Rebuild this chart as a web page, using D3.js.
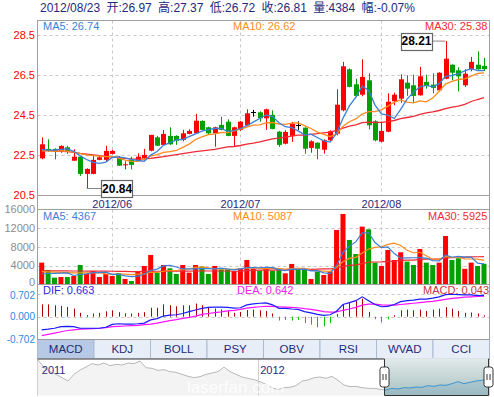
<!DOCTYPE html>
<html><head><meta charset="utf-8">
<script src="https://cdn.jsdelivr.net/npm/d3@7/dist/d3.min.js"></script>
<style>
html,body{margin:0;padding:0;background:#fff;}
svg{display:block;}
text{font-family:"Liberation Sans",Arial,"Noto Sans CJK SC",sans-serif;}
</style></head>
<body><svg id="chart" width="494" height="397"></svg>
<script>
// ---------------- DATA ----------------
const dates = ["2012-05-17","2012-05-18","2012-05-21","2012-05-22","2012-05-23","2012-05-24","2012-05-25","2012-05-28","2012-05-29","2012-05-30","2012-05-31",
"2012-06-01","2012-06-04","2012-06-05","2012-06-06","2012-06-07","2012-06-08","2012-06-11","2012-06-12","2012-06-13","2012-06-14","2012-06-15","2012-06-18","2012-06-19","2012-06-20","2012-06-21","2012-06-25","2012-06-26","2012-06-27","2012-06-28","2012-06-29",
"2012-07-02","2012-07-03","2012-07-04","2012-07-05","2012-07-06","2012-07-09","2012-07-10","2012-07-11","2012-07-12","2012-07-13","2012-07-16","2012-07-17","2012-07-18","2012-07-19","2012-07-20","2012-07-23","2012-07-24","2012-07-25","2012-07-26","2012-07-27","2012-07-30","2012-07-31",
"2012-08-01","2012-08-02","2012-08-03","2012-08-06","2012-08-07","2012-08-08","2012-08-09","2012-08-10","2012-08-13","2012-08-14","2012-08-15","2012-08-16","2012-08-17","2012-08-20","2012-08-21","2012-08-22","2012-08-23"];

const open = [22.35,22.82,22.82,22.73,22.9,22.23,22.43,21.57,21.57,22.27,
22.27,22.57,22.4,22.0,22.27,22.27,22.35,22.73,23.4,23.02,
23.47,23.47,23.27,23.57,23.6,24.22,23.9,23.6,24.02,24.18,
23.47,23.77,24.0,24.65,24.65,24.35,24.52,23.68,23.08,23.47,
24.0,23.88,22.87,23.13,22.78,23.25,23.58,24.75,26.8,26.05,
25.53,26.25,24.2,23.18,23.68,25.2,25.33,26.13,26.0,25.5,
26.17,26.03,25.75,26.33,27.03,26.75,26.0,26.8,27.03,26.97];
const high = [23.4,23.3,22.85,23.0,22.98,22.8,22.45,21.85,22.47,22.47,
22.98,22.78,22.47,22.2,22.43,22.6,22.82,23.52,23.47,23.77,
23.9,23.5,23.77,23.8,24.57,24.25,23.93,23.93,24.43,24.3,
23.93,24.22,24.8,24.77,24.7,24.83,24.75,23.72,23.75,24.17,
24.2,23.9,23.25,23.15,23.3,23.75,25.8,27.17,26.85,26.33,
27.3,26.6,24.25,24.18,25.6,25.63,26.55,26.5,26.53,26.92,
26.53,26.6,26.65,28.21,27.05,26.9,26.8,27.42,27.7,27.37];
const low = [22.3,22.68,22.3,22.63,22.57,22.23,21.47,20.84,21.55,22.25,
22.2,22.55,21.97,21.8,21.8,22.23,22.3,22.7,22.97,23.0,
23.02,23.02,23.2,23.55,23.58,23.75,23.55,22.93,23.75,23.45,
22.93,23.72,23.95,24.43,24.18,23.77,23.8,22.92,23.05,23.17,
23.77,22.58,22.63,22.3,22.58,23.2,23.5,24.7,25.9,25.4,
25.45,23.8,23.2,23.15,23.65,25.0,25.13,25.47,25.13,25.48,
25.83,25.6,25.7,26.3,26.25,25.7,25.92,26.7,26.78,26.72];
const close = [23.05,22.73,22.68,22.97,22.68,22.43,21.57,21.82,22.27,22.4,
22.72,22.72,21.98,22.05,22.02,22.43,22.52,23.52,22.98,23.57,
23.05,23.23,23.6,23.72,24.23,23.77,23.6,23.9,23.77,23.47,
23.9,24.18,24.6,24.65,24.35,24.8,23.82,23.02,23.67,24.08,
24.0,22.83,23.2,22.83,23.25,23.7,25.03,26.95,25.92,25.47,
26.42,24.0,23.25,23.72,25.18,25.53,26.3,25.83,25.47,26.45,
25.97,25.87,26.63,27.33,26.63,26.45,26.58,27.17,26.8,26.81];

const ma5 = [22.78,22.76,22.76,22.8,22.82,22.70,22.47,22.29,22.15,22.10,
22.16,22.39,22.42,22.37,22.30,22.24,22.20,22.51,22.69,23.00,
23.13,23.27,23.29,23.43,23.57,23.71,23.78,23.84,23.85,23.70,
23.73,23.84,23.98,24.16,24.34,24.52,24.44,24.13,23.93,23.88,
23.72,23.52,23.56,23.39,23.22,23.16,23.60,24.35,24.97,25.41,
25.96,25.75,25.01,24.57,24.51,24.34,24.80,25.31,25.66,25.92,
26.00,25.92,26.08,26.45,26.49,26.58,26.72,26.83,26.73,26.74];
const ma10 = [22.72,22.72,22.71,22.72,22.71,22.66,22.58,22.52,22.48,22.46,
22.43,22.43,22.36,22.26,22.20,22.20,22.29,22.46,22.53,22.65,
22.68,22.74,22.90,23.06,23.29,23.42,23.53,23.57,23.64,23.63,
23.72,23.81,23.91,24.01,24.02,24.12,24.14,24.06,24.05,24.11,
24.12,23.98,23.84,23.66,23.55,23.44,23.56,23.95,24.18,24.32,
24.56,24.68,24.68,24.77,24.96,25.15,25.27,25.16,25.12,25.22,
25.17,25.36,25.70,26.06,26.20,26.29,26.32,26.46,26.59,26.62];
const ma30 = [22.75,22.74,22.72,22.70,22.68,22.65,22.60,22.56,22.52,22.48,
22.45,22.42,22.39,22.35,22.32,22.31,22.32,22.35,22.39,22.43,
22.48,22.53,22.58,22.63,22.68,22.72,22.76,22.80,22.86,22.92,
22.94,22.99,23.06,23.11,23.17,23.25,23.32,23.36,23.41,23.46,
23.51,23.51,23.55,23.58,23.62,23.66,23.74,23.86,23.96,24.02,
24.13,24.16,24.15,24.15,24.18,24.24,24.33,24.39,24.45,24.55,
24.62,24.67,24.74,24.83,24.91,24.96,25.05,25.19,25.29,25.38];

const volume = [4620,3060,1420,1560,1560,1780,4120,2200,2840,1560,
2200,1780,2350,1140,710,2840,3910,6260,2490,4120,
3410,2200,4120,2490,4120,3770,2200,3910,3200,3200,
2840,3340,5190,3340,2920,3410,2920,3060,2350,4340,
3200,3200,1140,2700,1990,2700,11590,15000,9460,6470,
12300,11730,4620,3910,7320,5190,6830,4840,4120,7540,
4620,4120,4620,10310,5190,5550,3300,4620,3910,4384];
const volMa5 = [2200,2300,2350,2400,2440,1880,2090,2240,2500,2500,
2580,2120,2150,1810,1640,1760,2190,2970,3240,3920,
4040,3700,3270,3270,3270,3340,3340,3300,3440,3260,
3070,3300,3550,3580,3530,3640,3560,3130,2930,3220,
3170,3230,2850,2920,2450,2350,4020,6800,8150,9040,
10960,10990,8920,7810,7980,6550,5570,5620,5660,5700,
5590,5050,5000,6240,5770,5960,5790,5790,4510,4367];
const volMa10 = [2700,2650,2600,2550,2500,2450,2450,2450,2450,2470,
2230,2100,2200,2150,2070,2170,2150,2560,2520,2780,
2900,2940,3120,3260,3600,3690,3520,3280,3350,3260,
3210,3320,3430,3510,3390,3360,3430,3340,3260,3370,
3410,3390,2990,2920,2830,2760,3630,4820,5530,5750,
6660,7510,7860,7980,8510,8760,8280,7270,6730,6840,
6070,5310,5310,5950,5740,5770,5420,5400,5380,5087];
const volMa30 = [2900,2880,2860,2850,2850,2840,2840,2830,2820,2800,
2800,2780,2760,2740,2720,2720,2740,2760,2780,2800,
2800,2820,2820,2830,2840,2850,2840,2840,2840,2840,
2780,2790,2910,2970,3020,3070,3030,3060,3050,3140,
3170,3220,3180,3230,3270,3270,3520,3820,4050,4130,
4420,4740,4760,4800,4910,4960,5110,5140,5170,5320,
5380,5400,5390,5620,5690,5760,5780,5830,5880,5925];

const dif = [-0.41,-0.39,-0.36,-0.31,-0.30,-0.31,-0.36,-0.36,-0.36,-0.36,
-0.33,-0.24,-0.22,-0.23,-0.23,-0.22,-0.20,-0.10,-0.06,0.02,
0.05,0.06,0.10,0.16,0.21,0.26,0.29,0.30,0.30,0.29,
0.27,0.28,0.37,0.40,0.42,0.43,0.37,0.26,0.26,0.24,
0.23,0.16,0.12,0.07,0.04,0.06,0.17,0.38,0.44,0.50,
0.62,0.50,0.38,0.31,0.32,0.38,0.47,0.50,0.52,0.55,
0.55,0.58,0.62,0.69,0.70,0.69,0.68,0.68,0.66,0.663];
const dea = [-0.59,-0.55,-0.51,-0.47,-0.43,-0.41,-0.39,-0.38,-0.37,-0.36,
-0.34,-0.31,-0.30,-0.29,-0.28,-0.27,-0.25,-0.23,-0.20,-0.16,
-0.12,-0.09,-0.05,-0.02,0.02,0.07,0.10,0.13,0.15,0.18,
0.20,0.23,0.27,0.29,0.31,0.32,0.32,0.31,0.30,0.29,
0.28,0.25,0.23,0.20,0.16,0.14,0.15,0.20,0.24,0.29,
0.36,0.39,0.39,0.37,0.36,0.36,0.38,0.40,0.42,0.44,
0.46,0.48,0.51,0.54,0.57,0.59,0.61,0.62,0.63,0.642];
const macd = [0.386,0.386,0.356,0.335,0.305,0.254,0.122,0.05,0.10,0.12,
0.17,0.20,0.14,0.11,0.10,0.12,0.14,0.28,0.28,0.386,
0.356,0.325,0.356,0.356,0.41,0.356,0.305,0.254,0.224,0.18,
0.12,0.15,0.21,0.22,0.20,0.18,0.10,-0.12,-0.10,-0.12,
-0.10,-0.20,-0.25,-0.33,-0.30,-0.20,0.08,0.39,0.46,0.49,
0.56,0.15,-0.08,-0.18,-0.08,0.05,0.20,0.22,0.20,0.22,
0.18,0.22,0.25,0.30,0.25,0.18,0.12,0.13,0.10,0.043];

const navValues = [35.5,32.2,30.25,29.05,27.55,26.05,29.05,31.0,32.35,33.85,
33.25,34.15,32.95,33.55,33.25,34.15,33.85,35.05,32.05,31.75,
30.85,31.15,30.25,29.95,29.05,28.15,27.55,28.0,29.05,29.65,
30.25,32.35,30.25,29.05,27.85,27.25,26.65,25.75,24.55,23.05,
22.15,23.05,23.2,23.95,26.05,26.5,27.55,27.85,27.25,28.15,
26.35,24.25,23.5,23.65,23.05,22.75,22.75,22.3,22.0,22.75,
22.45,23.05,22.9,23.35,23.2,23.95,23.65,24.25,24.1,24.85,
25.75,24.85,25.45,26.05,26.35,26.95];
const navYears = [{pos:0.3, label:"2011"}, {pos:36.7, label:"2012"}];
const navSelection = [57.7, 75];

const priceTicks = [20.5,22.5,24.5,26.5,28.5];
const volTicks = [0,4000,8000,12000,16000];
const macdTicks = [-0.702,0,0.702];
const monthTicks = [{date:"2012-06-01",label:"2012/06"},{date:"2012-07-02",label:"2012/07"},{date:"2012-08-01",label:"2012/08"}];
const tabs = ["MACD","KDJ","BOLL","PSY","OBV","RSI","WVAD","CCI"];
const changePct = "-0.07%";
const watermark = "laserfan.com";

// ---------------- LAYOUT ----------------
const svg = d3.select("#chart");
const N = dates.length;
const L = 37.5, R = 489.5;
const P = {main:[20.5,195.5], vol:[209.5,284.5], macd:[284.5,339.5], tab:[339.5,358.5], nav:[358.5,395.5]};
const C = {up:"#ff0000", down:"#00a000", ma5:"#3a7fd8", ma10:"#ff8a1e", ma30:"#f02a35",
  grid:"#c8c8c8", border:"#a0a0a0", navy:"#1f2a7a", dif:"#1a1aff", dea:"#ff10ff", mUp:"#b00000", mDn:"#10c010"};

const x = d3.scaleBand().domain(dates).range([38.5, 487.2]);
const cx = i => x(dates[i]) + x.bandwidth()/2;
const yP = d3.scaleLinear().domain([20.5,28.5]).range([195.3,35.3]);
const yV = d3.scaleLinear().domain([0,16000]).range([284.3,209.3]);
const yM = d3.scaleLinear().domain([-0.702,0.702]).range([339.2,294.2]);
const bodyW = 5;

const defs = svg.append("defs");
function clip(id,y0,y1){ defs.append("clipPath").attr("id",id).append("rect").attr("x",L).attr("y",y0).attr("width",R-L).attr("height",y1-y0); }
clip("cMain",P.main[0],P.main[1]); clip("cVol",P.vol[0],P.vol[1]); clip("cMacd",P.macd[0],P.macd[1]);

svg.append("rect").attr("width",494).attr("height",397).attr("fill","#fff");

// ---------------- HEADER ----------------
svg.append("text").attr("x",40).attr("y",11.5).attr("font-size",12).attr("fill",C.navy)
  .style("white-space","pre").style("word-spacing","3px")
  .text(`${dates[N-1].replace(/-/g,"/")} 开:${open[N-1].toFixed(2)} 高:${high[N-1].toFixed(2)} 低:${low[N-1].toFixed(2)} 收:${close[N-1].toFixed(2)} 量:${volume[N-1]} 幅:${changePct}`);

// ---------------- GRIDS ----------------
const grid = svg.append("g").attr("stroke",C.grid).attr("stroke-dasharray","3,3").attr("stroke-width",1);
priceTicks.filter(t=>t>20.5).forEach(t=>{ const yy=Math.round(yP(t))+0.5; grid.append("line").attr("x1",L).attr("x2",R).attr("y1",yy).attr("y2",yy); });
volTicks.filter(t=>t>0&&t<16000).forEach(t=>{ const yy=Math.round(yV(t))+0.5; grid.append("line").attr("x1",L).attr("x2",R).attr("y1",yy).attr("y2",yy); });
macdTicks.filter(t=>t>=0).forEach(t=>{ const yy=Math.round(yM(t))+0.5; grid.append("line").attr("x1",L).attr("x2",R).attr("y1",yy).attr("y2",yy); });
monthTicks.forEach(m=>{ const xx=Math.round(cx(dates.indexOf(m.date)))+0.5;
  grid.append("line").attr("x1",xx).attr("x2",xx).attr("y1",P.main[0]).attr("y2",P.main[1]);
  grid.append("line").attr("x1",xx).attr("x2",xx).attr("y1",P.vol[0]).attr("y2",P.vol[1]);
});

// ---------------- CANDLES ----------------
const gMain = svg.append("g").attr("clip-path","url(#cMain)");
const candleColor = i => close[i]>open[i]?C.up:(close[i]<open[i]?C.down:"#000");
dates.forEach((d,i)=>{
  const xc = Math.round(cx(i))+0.5, col = candleColor(i);
  gMain.append("line").attr("x1",xc).attr("x2",xc).attr("y1",yP(high[i])).attr("y2",yP(low[i])).attr("stroke",col).attr("stroke-width",1);
  const top = yP(Math.max(open[i],close[i])), bot = yP(Math.min(open[i],close[i]));
  if (open[i]===close[i]) {
    gMain.append("line").attr("x1",xc-2.5).attr("x2",xc+2.5).attr("y1",Math.round(top)+0.5).attr("y2",Math.round(top)+0.5).attr("stroke",col);
  } else {
    gMain.append("rect").attr("x",xc-bodyW/2).attr("y",top).attr("width",bodyW).attr("height",Math.max(1,bot-top)).attr("fill",col);
  }
});
const lineP = d3.line().x((d,i)=>cx(i)).y(d=>yP(d));
[[ma30,C.ma30],[ma10,C.ma10],[ma5,C.ma5]].forEach(([arr,col])=>{
  gMain.append("path").attr("d",lineP(arr)).attr("fill","none").attr("stroke",col).attr("stroke-width",1.3);
});

// ---------------- VOLUME ----------------
const gVol = svg.append("g").attr("clip-path","url(#cVol)");
const volColor = i => close[i]>open[i]?C.up:(close[i]<open[i]?C.down:(i>0&&close[i]<close[i-1]?C.down:C.up));
dates.forEach((d,i)=>{
  gVol.append("rect").attr("x",cx(i)-bodyW/2).attr("y",yV(volume[i])).attr("width",bodyW).attr("height",yV(0)-yV(volume[i])).attr("fill",volColor(i));
});
const lineV = d3.line().x((d,i)=>cx(i)).y(d=>yV(d));
[[volMa30,C.ma30],[volMa10,C.ma10],[volMa5,C.ma5]].forEach(([arr,col])=>{
  gVol.append("path").attr("d",lineV(arr)).attr("fill","none").attr("stroke",col).attr("stroke-width",1.2);
});

// ---------------- MACD ----------------
const gM = svg.append("g").attr("clip-path","url(#cMacd)");
dates.forEach((d,i)=>{
  const xc = Math.round(cx(i))+0.5;
  gM.append("line").attr("x1",xc).attr("x2",xc).attr("y1",yM(0)).attr("y2",yM(macd[i])).attr("stroke",macd[i]>=0?C.mUp:C.mDn).attr("stroke-width",1);
});
const lineM = d3.line().x((d,i)=>cx(i)).y(d=>yM(d));
gM.append("path").attr("d",lineM(dea)).attr("fill","none").attr("stroke",C.dea).attr("stroke-width",1.2);
gM.append("path").attr("d",lineM(dif)).attr("fill","none").attr("stroke",C.dif).attr("stroke-width",1.2);

// ---------------- LEGENDS ----------------
function legend(xp,yp,txt,col){ svg.append("text").attr("x",xp).attr("y",yp).attr("font-size",11).attr("fill",col).text(txt); }
legend(43,30,`MA5: ${ma5[N-1].toFixed(2)}`,C.ma5);
legend(233,30,`MA10: ${ma10[N-1].toFixed(2)}`,C.ma10);
legend(425,30,`MA30: ${ma30[N-1].toFixed(2)}`,C.ma30);
legend(43,220,`MA5: ${volMa5[N-1]}`,C.ma5);
legend(233,220,`MA10: ${volMa10[N-1]}`,C.ma10);
legend(428,220,`MA30: ${volMa30[N-1]}`,C.ma30);
legend(43,293.5,`DIF: ${dif[N-1].toFixed(3)}`,"#2a2ae0");
legend(237,293.5,`DEA: ${dea[N-1].toFixed(3)}`,"#f020f0");
legend(423,293.5,`MACD: ${macd[N-1].toFixed(3)}`,"#c8303c");

// ---------------- AXES LABELS ----------------
function ylabels(ticks,scale,col,fmt,fs,nudge){
  ticks.forEach(t=>svg.append("text").attr("x",35).attr("y",scale(t)+(nudge?nudge(t):0)).attr("dy","0.35em").attr("text-anchor","end").attr("font-size",fs).attr("fill",col).text(fmt(t)));
}
ylabels(priceTicks,yP,"#ff0000",t=>t.toFixed(1),11);
ylabels(volTicks,yV,"#8c8c8c",t=>String(t),11,t=>t===0?-1.8:0);
ylabels(macdTicks,yM,"#2a88e0",t=>t.toFixed(3),10,t=>t>0?1.2:0);
monthTicks.forEach(m=>{
  svg.append("text").attr("x",cx(dates.indexOf(m.date))).attr("y",207.5).attr("text-anchor","middle").attr("font-size",11).attr("fill",C.navy).text(m.label);
});

// ---------------- BORDERS ----------------
const gB = svg.append("g").attr("fill","none").attr("stroke",C.border).attr("stroke-width",1);
gB.append("rect").attr("x",L).attr("y",P.main[0]).attr("width",R-L).attr("height",P.main[1]-P.main[0]);
gB.append("line").attr("x1",L).attr("x2",L).attr("y1",P.main[1]).attr("y2",P.nav[1]);
gB.append("line").attr("x1",R).attr("x2",R).attr("y1",P.main[1]).attr("y2",P.nav[1]);
gB.append("line").attr("x1",L).attr("x2",R).attr("y1",P.vol[0]).attr("y2",P.vol[0]);
gB.append("line").attr("x1",L).attr("x2",R).attr("y1",P.vol[1]).attr("y2",P.vol[1]);

// ---------------- ANNOTATIONS ----------------
function flag(i,price,side){
  const xc = cx(i), yy = yP(price), bw=31, bh=17;
  const bx = side<0 ? xc-14-bw : xc+14.5;
  svg.append("line").attr("x1",xc).attr("x2",side<0?bx+bw:bx).attr("y1",yy).attr("y2",yy).attr("stroke","#888");
  svg.append("rect").attr("x",Math.round(bx)+0.5).attr("y",Math.round(yy-bh/2)+0.5).attr("width",bw).attr("height",bh).attr("fill","#fff").attr("stroke","#666").attr("stroke-width",1.2);
  svg.append("text").attr("x",bx+bw/2+0.5).attr("y",yy).attr("dy","0.36em").attr("text-anchor","middle").attr("font-size",12).attr("font-weight","bold").attr("fill","#000").text(price.toFixed(2));
}
const iHi = d3.maxIndex(high), iLo = d3.minIndex(low);
flag(iHi, high[iHi], -1);
flag(iLo, low[iLo], 1);

// ---------------- TABS ----------------
const xt = d3.scaleBand().domain(tabs).range([L,R]);
tabs.forEach((t,k)=>{
  svg.append("rect").attr("x",xt(t)).attr("y",P.tab[0]).attr("width",xt.bandwidth()).attr("height",P.tab[1]-P.tab[0]).attr("fill",k===0?"#b7c9e4":"#e8eef8").attr("stroke","#aab9d6").attr("stroke-width",1);
  svg.append("text").attr("x",xt(t)+xt.bandwidth()/2).attr("y",353).attr("text-anchor","middle").attr("font-size",11.5).attr("fill",C.navy).text(t);
});
svg.append("line").attr("x1",L).attr("x2",R).attr("y1",P.tab[0]).attr("y2",P.tab[0]).attr("stroke","#9a9a9a");

// ---------------- NAVIGATOR ----------------
const xn = d3.scaleLinear().domain([0,navValues.length-1]).range([38,488]);
const yn = d3.scaleLinear().domain([22,35.5]).range([390,360]);
const gN = svg.append("g");
gN.append("rect").attr("x",L).attr("y",P.nav[0]).attr("width",R-L).attr("height",P.nav[1]-P.nav[0]).attr("fill","#fff");
const areaN = d3.area().x((d,i)=>xn(i)).y0(P.nav[1]).y1(d=>yn(d));
const lineN = d3.line().x((d,i)=>xn(i)).y(d=>yn(d));
gN.append("path").attr("d",areaN(navValues)).attr("fill","#f3f3f3");
gN.append("path").attr("d",lineN(navValues)).attr("fill","none").attr("stroke","#b8b8b8").attr("stroke-width",1);
gN.append("line").attr("x1",258.5).attr("x2",258.5).attr("y1",P.nav[0]).attr("y2",P.nav[1]).attr("stroke","#d0d0d0");
navYears.forEach(y=>gN.append("text").attr("x",xn(y.pos)+2).attr("y",373.5).attr("font-size",11).attr("fill","#2a2a80").text(y.label));
gN.append("text").attr("x",187).attr("y",393).attr("font-size",17).attr("fill","#ffffff").attr("opacity",0.9).text(watermark);
const sx0 = xn(navSelection[0]), sx1 = xn(navSelection[1]);
const grad = defs.append("linearGradient").attr("id","selGrad").attr("x1",0).attr("y1",0).attr("x2",0).attr("y2",1);
grad.append("stop").attr("offset","0%").attr("stop-color","#e2eaea");
grad.append("stop").attr("offset","100%").attr("stop-color","#a9c0c0");
gN.append("rect").attr("x",sx0).attr("y",P.nav[0]).attr("width",sx1-sx0).attr("height",P.nav[1]-P.nav[0]).attr("fill","url(#selGrad)");
defs.append("clipPath").attr("id","cSel").append("rect").attr("x",sx0).attr("y",P.nav[0]).attr("width",sx1-sx0).attr("height",P.nav[1]-P.nav[0]);
gN.append("path").attr("d",areaN(navValues)).attr("fill","#5a9cc8").attr("opacity",0.18).attr("clip-path","url(#cSel)");
gN.append("path").attr("d",lineN(navValues)).attr("fill","none").attr("stroke","#3d95d0").attr("stroke-width",1).attr("clip-path","url(#cSel)");
gN.append("path").attr("d",`M${L},${P.nav[0]+0.5}H${Math.round(sx0)+0.5}V${P.nav[1]}H${Math.round(sx1)+0.5}V${P.nav[0]+0.5}H${R}`).attr("fill","none").attr("stroke","#333").attr("stroke-width",1);
[sx0,sx1].forEach(hx=>{
  const h = gN.append("g").attr("transform",`translate(${Math.round(hx)+0.5},377)`);
  h.append("rect").attr("x",-4.5).attr("y",-10).attr("width",9).attr("height",20).attr("rx",2.5).attr("fill","#fff").attr("stroke","#333");
  h.append("line").attr("x1",-1.5).attr("x2",-1.5).attr("y1",-3).attr("y2",3).attr("stroke","#333");
  h.append("line").attr("x1",1.5).attr("x2",1.5).attr("y1",-3).attr("y2",3).attr("stroke","#333");
});
</script></body></html>
